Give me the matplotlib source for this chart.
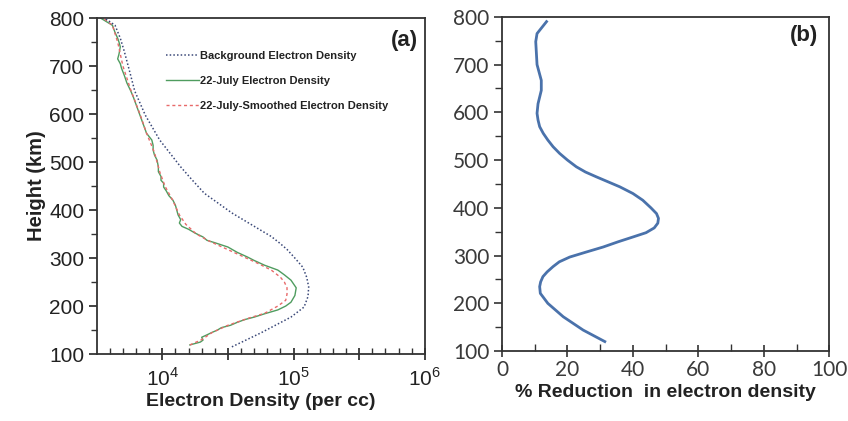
import numpy as np
import matplotlib
matplotlib.use("Agg")
import matplotlib.pyplot as plt
from matplotlib.ticker import FixedLocator, FuncFormatter, MultipleLocator

plt.rcParams['font.family'] = ['Liberation Sans', 'DejaVu Sans']
plt.rcParams['mathtext.fontset'] = 'custom'
plt.rcParams['mathtext.rm'] = 'Liberation Sans'

# panel (a): electron density profiles, values are log10(Ne per cc)
bg_height = [115, 144, 177, 198, 220, 240, 260, 281, 300, 318, 331, 345, 358,
             394, 435, 465, 490, 546, 598, 648, 690, 731, 758, 785, 800]
bg_log_ne = [4.53, 4.75, 4.98, 5.08, 5.11, 5.115, 5.10, 5.07, 5.01, 4.95, 4.895,
             4.83, 4.75, 4.53, 4.32, 4.22, 4.14, 3.98, 3.87, 3.79, 3.75, 3.71,
             3.68, 3.64, 3.56]

jul_height = [119, 122, 125, 129, 135, 140, 144, 150, 155, 160, 166, 172, 177,
              184, 192, 200, 208, 222, 238, 254, 265, 275, 285, 295, 302, 312,
              323, 332, 337, 344, 352, 360, 366, 373, 380, 390, 400, 410, 421,
              430, 440, 448, 456, 462, 470, 480, 490, 504, 515, 525, 535, 546,
              560, 575, 590, 605, 620, 635, 648, 665, 681, 695, 705, 715, 725,
              740, 750, 758, 770, 785, 800]
jul_log_ne = [4.21, 4.25, 4.29, 4.31, 4.30, 4.34, 4.37, 4.42, 4.45, 4.52, 4.57,
              4.63, 4.70, 4.78, 4.88, 4.94, 4.98, 5.01, 5.02, 4.98, 4.93, 4.88,
              4.78, 4.70, 4.65, 4.57, 4.50, 4.40, 4.34, 4.31, 4.25, 4.20, 4.15,
              4.13, 4.14, 4.12, 4.11, 4.10, 4.08, 4.05, 4.03, 4.01, 4.01, 3.99,
              3.99, 3.97, 3.97, 3.96, 3.94, 3.93, 3.93, 3.92, 3.88, 3.86, 3.84,
              3.82, 3.80, 3.78, 3.76, 3.73, 3.71, 3.69, 3.68, 3.66, 3.67, 3.68,
              3.67, 3.66, 3.64, 3.62, 3.53]

smooth_height = [119, 130, 145, 160, 175, 185, 200, 212, 225, 238, 250, 260, 275,
                 290, 305, 320, 335, 350, 370, 390, 420, 450, 480, 520, 560, 600,
                 650, 700, 750, 785, 800]
smooth_log_ne = [4.21, 4.30, 4.38, 4.50, 4.66, 4.78, 4.88, 4.94, 4.95, 4.95, 4.93,
                 4.90, 4.83, 4.72, 4.60, 4.48, 4.36, 4.26, 4.18, 4.13, 4.08, 4.02,
                 3.98, 3.94, 3.88, 3.83, 3.76, 3.70, 3.66, 3.62, 3.55]

legend_labels = ['Background Electron Density', '22-July Electron Density',
                 '22-July-Smoothed Electron Density']

# panel (b): percentage reduction
red_height = [120, 144, 172, 200, 221, 235, 245, 256, 266, 277, 287, 297, 307,
              318, 329, 339, 348, 358, 368, 378, 388, 400, 416, 430, 444, 465,
              475, 486, 500, 514, 528, 542, 556, 570, 584, 598, 618, 646, 667,
              700, 748, 765, 790]
red_pct = [31.4, 24.8, 18.7, 14.0, 11.7, 11.5, 11.8, 12.5, 13.8, 15.6, 17.5, 20.7,
           25.5, 30.9, 35.5, 40.0, 44.0, 46.5, 47.6, 47.8, 47.2, 45.5, 43.0, 40.0,
           36.0, 28.8, 25.5, 22.7, 20.0, 17.6, 15.6, 14.0, 12.6, 11.5, 11.0, 10.7,
           11.0, 12.0, 12.0, 10.7, 10.3, 10.7, 13.6]

fig = plt.figure(figsize=(8.48, 4.21), dpi=100)
ax1 = fig.add_axes([0.114, 0.159, 0.387, 0.798])
ax2 = fig.add_axes([0.592, 0.166, 0.386, 0.794])

# ---- (a)
ax1.plot(10 ** np.array(jul_log_ne), jul_height, color='#4f9c5f', lw=1.0,
         label=legend_labels[1], zorder=2)
ax1.plot(10 ** np.array(smooth_log_ne), smooth_height, color='#e86a6a', lw=1.0,
         dashes=(2.2, 2), label=legend_labels[2], zorder=3)
ax1.plot(10 ** np.array(bg_log_ne), bg_height, color='#3a4878', lw=1.1,
         linestyle=(0, (1, 1.4)), label=legend_labels[0], zorder=3)

ax1.set_xscale('log')
ax1.set_xlim(10 ** 3.5, 1e6)
ax1.set_ylim(100, 800)
ax1.xaxis.set_major_locator(FixedLocator(10 ** np.arange(4, 6.01, 0.5)))
ax1.xaxis.set_minor_locator(FixedLocator(10 ** np.arange(3.6, 6.0, 0.1)))
ax1.xaxis.set_major_formatter(FuncFormatter(
    lambda v, p: r'$10^{%d}$' % round(np.log10(v)) if abs(np.log10(v) - round(np.log10(v))) < 1e-6 else ''))
ax1.xaxis.set_minor_formatter(FuncFormatter(lambda v, p: ''))
ax1.yaxis.set_major_locator(MultipleLocator(100))
ax1.yaxis.set_minor_locator(MultipleLocator(50))
ax1.tick_params(axis='x', which='major', direction='inout', length=9, width=1.2,
                labelsize=15, pad=5, colors='#222')
ax1.tick_params(axis='x', which='minor', direction='in', length=4, width=1.0, colors='#333')
ax1.tick_params(axis='y', which='major', direction='out', length=6, width=1.2,
                labelsize=15, colors='#222', pad=3)
ax1.tick_params(axis='y', which='minor', direction='out', length=4, width=1.0, colors='#333')
for s in ax1.spines.values():
    s.set_color('#333')
    s.set_linewidth(1.3)
ax1.set_xlabel('Electron Density (per cc)', fontsize=14, fontweight='bold', color='#222', labelpad=2)
ax1.set_ylabel('Height (km)', fontsize=14.5, fontweight='bold', color='#222', labelpad=2)
ax1.text(0.979, 0.965, '(a)', transform=ax1.transAxes, ha='right', va='top',
         fontsize=16, fontweight='bold', color='#222')

h, l = ax1.get_legend_handles_labels()
order = [2, 0, 1]
leg = ax1.legend([h[i] for i in order], [l[i] for i in order], loc='upper left',
                 bbox_to_anchor=(0.21, 0.902), frameon=False,
                 prop={'size': 8, 'weight': 'bold'}, handlelength=3.0,
                 handletextpad=0.1, labelspacing=1.35, borderpad=0, borderaxespad=0)
for t in leg.get_texts():
    t.set_color('#222')

# ---- (b)
ax2.plot(red_pct, red_height, color='#4a72ab', lw=2.0)
ax2.set_xlim(0, 100)
ax2.set_ylim(100, 800)
ax2.xaxis.set_major_locator(MultipleLocator(20))
ax2.xaxis.set_minor_locator(MultipleLocator(10))
ax2.yaxis.set_major_locator(MultipleLocator(100))
ax2.yaxis.set_minor_locator(MultipleLocator(50))
ax2.tick_params(axis='x', which='major', direction='inout', length=9, width=1.2,
                labelsize=15, pad=2, colors='#333')
ax2.tick_params(axis='x', which='minor', direction='in', length=5, width=1.0, colors='#333')
ax2.tick_params(axis='y', which='major', direction='out', length=6, width=1.2,
                labelsize=15, pad=3, colors='#333')
ax2.tick_params(axis='y', which='minor', direction='out', length=5, width=1.0, colors='#333')
for lab in ax2.get_xticklabels() + ax2.get_yticklabels():
    lab.set_family(['Lato', 'DejaVu Sans'])
    lab.set_color('#3a3a3a')
for s in ax2.spines.values():
    s.set_color('#333')
    s.set_linewidth(1.3)
ax2.set_xlabel('% Reduction  in electron density', fontsize=14, fontweight='bold',
               color='#222', labelpad=3)
ax2.text(0.966, 0.975, '(b)', transform=ax2.transAxes, ha='right', va='top',
         fontsize=16, fontweight='bold', color='#222')

fig.savefig('out.png', dpi=100)
